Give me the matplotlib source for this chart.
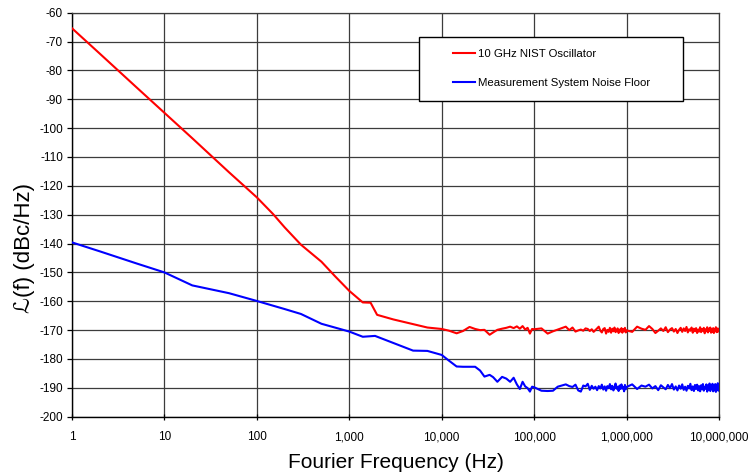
import numpy as np
import matplotlib
matplotlib.use("Agg")
import matplotlib.pyplot as plt
from matplotlib.patches import Rectangle

# ---- data -------------------------------------------------------------
# low-offset part of each spectrum (Hz, dBc/Hz)
osc_f_low = [1, 2, 3, 5, 10, 20, 30, 50, 100, 150, 200, 300, 500, 700,
             1000, 1400, 1700, 2000, 3000, 5000, 7000]
osc_db_low = [-65.4, -74.2, -79.4, -85.9, -94.7, -103.5, -108.7, -115.3,
              -124.0, -129.8, -134.4, -140.4, -146.3, -151.3, -156.4,
              -160.4, -160.5, -164.7, -166.3, -168.0, -169.1]

floor_f_low = [1, 2, 5, 10, 20, 50, 100, 200, 300, 500, 1000, 1400, 1900,
               4900, 7000]
floor_db_low = [-139.6, -142.7, -146.9, -150.0, -154.5, -157.2, -159.9,
                -162.7, -164.4, -167.8, -170.5, -172.3, -172.0, -177.1,
                -177.2]

# analyzer spot frequencies above 10 kHz
f_dec4_hz = [10000, 12000, 14500, 17000, 20000, 23000, 26000, 29000, 33000,
             36000, 40000, 45000, 50000, 55000, 60000, 65000, 70000, 75000,
             80000, 85000, 90000, 95000]
f_dec5_khz = [100, 120, 140, 160, 180, 200, 220, 240, 260, 280,
              300, 320, 340, 360, 380, 400, 420, 440, 460, 480,
              500, 520, 540, 560, 580, 600, 620, 640, 660, 680,
              700, 720, 740, 760, 780, 800, 820, 840, 860, 880,
              900, 920, 940, 960, 980]
f_dec6_mhz = [1.00, 1.15, 1.30, 1.45, 1.60, 1.75, 1.90, 2.05, 2.20, 2.35,
              2.50, 2.65, 2.80, 2.95, 3.10, 3.25, 3.40, 3.55, 3.70, 3.85,
              4.00, 4.15, 4.30, 4.45, 4.60, 4.75, 4.90, 5.05, 5.20, 5.35,
              5.50, 5.65, 5.80, 5.95, 6.10, 6.25, 6.40, 6.55, 6.70, 6.85,
              7.00, 7.15, 7.30, 7.45, 7.60, 7.75, 7.90, 8.05, 8.20, 8.35,
              8.50, 8.65, 8.80, 8.95, 9.10, 9.25, 9.40, 9.55, 9.70, 9.85,
              10.00]

osc_db_dec4 = [-169.6, -170.2, -171.1, -170.3, -168.9, -169.6, -170.0, -169.9,
               -171.6, -170.8, -169.9, -169.5, -169.2, -168.8, -169.3, -168.7,
               -169.5, -168.6, -169.8, -169.2, -171.2, -169.6]
osc_db_dec5 = [-169.7, -169.4, -171.2, -170.4, -169.8, -169.3, -168.8, -170.0, -169.1, -170.5,
               -170.1, -169.8, -170.2, -169.4, -169.6, -170.3, -169.7, -170.6, -170.0, -169.4,
               -168.8, -170.2, -170.8, -169.6, -169.3, -171.2, -169.9, -170.6, -169.2, -170.9,
               -169.5, -170.4, -169.1, -170.7, -170.2, -169.4, -171.0, -169.8, -170.5, -169.3,
               -170.9, -169.7, -170.4, -169.2, -170.8]
osc_db_dec6 = [-170.1, -170.6, -168.8, -169.5, -169.9, -168.6, -169.6, -171.0, -170.2, -169.4,
               -170.3, -169.0, -170.7, -169.8, -169.3, -170.5, -169.6, -171.0, -169.9, -169.2,
               -170.6, -169.4, -170.3, -168.9, -170.8, -169.7, -170.2, -169.1, -170.9, -169.5,
               -170.4, -169.3, -171.0, -169.8, -170.5, -169.0, -170.7, -169.6, -170.2, -169.2,
               -171.1, -169.7, -170.4, -169.0, -170.8, -169.5, -170.3, -169.1, -170.9, -169.8,
               -170.5, -169.3, -171.0, -169.6, -170.2, -169.0, -170.7, -169.4, -170.6, -169.5,
               -170.1]

floor_db_dec4 = [-178.6, -180.6, -182.6, -182.7, -182.7, -182.7, -184.0, -186.1,
                 -185.5, -186.3, -187.9, -186.2, -186.8, -187.9, -186.5, -188.8,
                 -190.4, -187.9, -189.5, -190.1, -191.3, -189.6]
floor_db_dec5 = [-189.8, -191.0, -191.1, -191.0, -189.6, -189.2, -188.8, -189.4, -189.7, -188.9,
                 -190.9, -191.3, -189.2, -189.5, -188.6, -190.7, -189.3, -190.3, -189.6, -190.8,
                 -189.4, -190.2, -188.9, -190.6, -189.5, -191.0, -189.4, -190.1, -188.7, -190.5,
                 -189.3, -190.9, -189.8, -188.5, -190.3, -189.6, -191.1, -189.2, -190.4, -188.8,
                 -190.2, -189.7, -191.2, -189.0, -190.5]
floor_db_dec6 = [-189.7, -188.8, -190.4, -189.2, -189.6, -188.9, -190.2, -189.4, -190.8, -189.1,
                 -189.8, -190.5, -189.0, -190.1, -188.7, -190.6, -189.5, -190.9, -189.2, -190.3,
                 -188.8, -190.7, -189.6, -191.0, -189.3, -190.2, -188.6, -190.8, -189.5, -191.1,
                 -189.0, -190.4, -188.9, -190.9, -189.4, -191.2, -189.1, -190.5, -188.7, -191.0,
                 -189.6, -190.3, -188.8, -191.3, -189.2, -190.6, -188.5, -191.1, -189.7, -190.4,
                 -188.6, -191.2, -189.3, -190.8, -188.7, -191.4, -189.5, -190.6, -188.4, -191.0,
                 -189.8]

series_labels = ["10 GHz NIST Oscillator", "Measurement System Noise Floor"]
x_ticks = [1, 10, 100, 1000, 10000, 100000, 1000000, 10000000]
x_tick_labels = ["1", "10", "100", "1,000", "10,000", "100,000",
                 "1,000,000", "10,000,000"]
y_ticks = list(range(-200, -59, 10))

# ---- assemble ---------------------------------------------------------
f_high = np.concatenate([np.array(f_dec4_hz, float),
                         np.array(f_dec5_khz, float) * 1e3,
                         np.array(f_dec6_mhz, float) * 1e6])
osc_f = np.concatenate([osc_f_low, f_high])
osc_db = np.concatenate([osc_db_low, osc_db_dec4, osc_db_dec5, osc_db_dec6])
floor_f = np.concatenate([floor_f_low, f_high])
floor_db = np.concatenate([floor_db_low, floor_db_dec4, floor_db_dec5,
                           floor_db_dec6])

# ---- figure -----------------------------------------------------------
plt.rcParams["axes.unicode_minus"] = False
plt.rcParams["font.family"] = ["Liberation Sans", "DejaVu Sans"]

W, H = 751, 475
fig = plt.figure(figsize=(W / 100, H / 100), dpi=100)
ax = fig.add_axes([72 / W, 1 - 416.7 / H, 647 / W, 404 / H])

ax.plot(osc_f, osc_db, color="#ff0000", lw=1.5, label=series_labels[0],
        zorder=3)
ax.plot(floor_f, floor_db, color="#0000ff", lw=1.5, label=series_labels[1],
        zorder=3)

ax.set_xscale("log")
ax.set_xlim(1, 1e7)
ax.set_ylim(-200, -60)
ax.set_xticks(x_ticks)
ax.set_xticklabels(x_tick_labels)
ax.xaxis.set_minor_locator(matplotlib.ticker.NullLocator())
ax.set_yticks(y_ticks)
ax.set_yticklabels([str(v) for v in y_ticks])

grid_col = "#3c3c3c"
ax.grid(True, which="major", color=grid_col, lw=0.9)
ax.set_axisbelow(True)
for side in ("top", "right"):
    ax.spines[side].set_color(grid_col)
    ax.spines[side].set_linewidth(0.9)
for side in ("left", "bottom"):
    ax.spines[side].set_color("black")
    ax.spines[side].set_linewidth(1.0)

ax.tick_params(axis="y", direction="out", length=3.5, width=0.9, pad=3,
               labelsize=8.5, colors="black")
ax.tick_params(axis="x", direction="inout", length=5, width=0.9, pad=8,
               labelsize=8.5, colors="black")

ax.set_xlabel("Fourier Frequency (Hz)", fontsize=15, labelpad=7)
ax.set_ylabel("\u2112(f) (dBc/Hz)", fontsize=16,
              family=["Liberation Sans", "DejaVu Sans"])
ax.yaxis.set_label_coords(-0.057, 0.418)

# legend box
ax.add_patch(Rectangle((0.536, 0.781), 0.408, 0.159, transform=ax.transAxes,
                       facecolor="white", edgecolor="black", lw=1.0,
                       zorder=4))
leg = ax.legend(loc="center left", bbox_to_anchor=(0.589, 0.861),
                frameon=False, fontsize=8.2, handlelength=1.9,
                handletextpad=0.3, labelspacing=1.65, borderpad=0,
                borderaxespad=0)
leg.set_zorder(5)

fig.savefig("out.png", dpi=100, facecolor="white")
